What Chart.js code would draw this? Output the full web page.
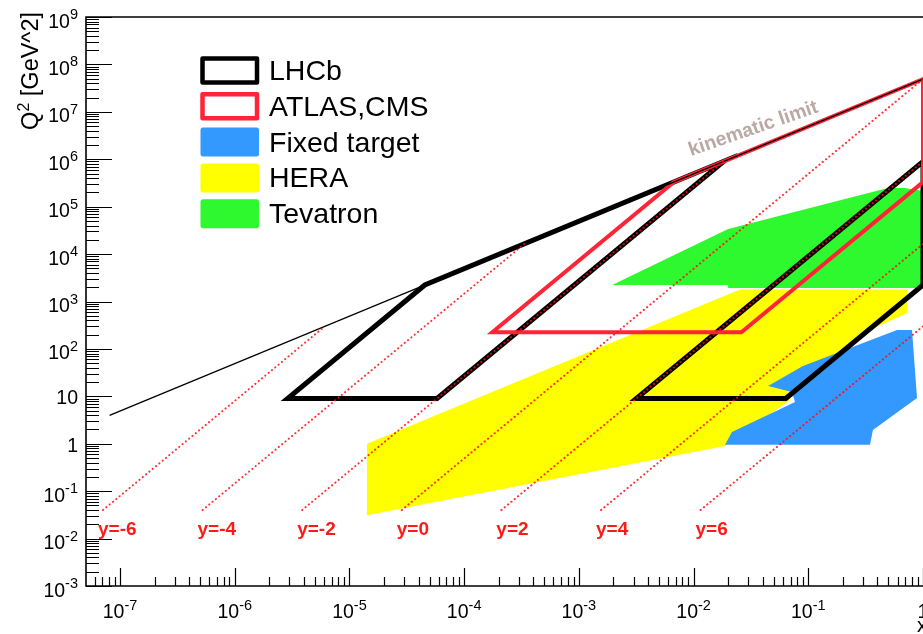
<!DOCTYPE html>
<html>
<head>
<meta charset="utf-8">
<script src="https://cdn.jsdelivr.net/npm/chart.js@4.4.1/dist/chart.umd.min.js"></script>
<style>
  html, body { margin: 0; padding: 0; background: #fff; overflow: hidden; }
  canvas { display: block; }
</style>
</head>
<body>
<canvas id="kin" width="923" height="634"></canvas>
<script>
// Kinematic coverage in the (x, Q^2) plane at sqrt(s) = 7 TeV

// axis ranges
const xRange = [5.05e-8, 1];
const q2Range = [1e-3, 1e9];

// tick labels
const xTickValues = [1e-7, 1e-6, 1e-5, 1e-4, 1e-3, 1e-2, 1e-1, 1];
const xTickBase = ['10', '10', '10', '10', '10', '10', '10', '1'];
const xTickExp = ['-7', '-6', '-5', '-4', '-3', '-2', '-1', ''];
const yTickValues = [1e-3, 1e-2, 1e-1, 1, 10, 1e2, 1e3, 1e4, 1e5, 1e6, 1e7, 1e8, 1e9];
const yTickBase = ['10', '10', '10', '1', '10', '10', '10', '10', '10', '10', '10', '10', '10'];
const yTickExp = ['-3', '-2', '-1', '', '', '2', '3', '4', '5', '6', '7', '8', '9'];

// kinematic limit Q^2 = x s
const kinLimitX = [8.2e-8, 1];
const kinLimitQ2 = [4.0, 4.9e7];
const kinLabelAt = [9.5e-3, 1.17e6];

// lines of constant rapidity
const rapidities = [-6, -4, -2, 0, 2, 4, 6];
const rapStartX = [7.1e-8, 5.24e-7, 3.87e-6, 2.86e-5, 2.11e-4, 1.56e-3, 1.15e-2];
const rapStartQ2 = [0.04, 0.04, 0.04, 0.04, 0.04, 0.04, 0.04];
const rapEndX = [6.1e-6, 3.35e-4, 0.0183, 1, 1, 1, 1];
const rapEndQ2 = [300, 1.64e4, 9.0e5, 4.9e7, 9.0e5, 1.64e4, 300];

// LHCb: backward (low-x) and forward (high-x) regions
const lhcbLowX = [5.8e-5, 0.0183, 4.54e-5, 2.89e-6, 5.8e-5];
const lhcbLowQ2 = [9, 9.0e5, 2225, 9, 9];
const lhcbHighX = [0.0636, 1, 1, 3.17e-3, 0.0636];
const lhcbHighQ2 = [9, 2225, 9.0e5, 9, 9];

// ATLAS, CMS
const atlasX = [0.0261, 1, 1, 6.74e-3, 1.76e-4, 0.0261];
const atlasQ2 = [225, 3.3e5, 4.9e7, 3.3e5, 225, 225];

// HERA
const heraX = [1.42e-5, 0.0254, 0.726, 0.726, 0.332, 0.193, 0.0847, 0.0693, 0.0188, 1.42e-5];
const heraQ2 = [1.0, 1800, 1800, 573, 239, 86, 32.6, 8.4, 0.9, 0.031];

// fixed target
const fixedX = [0.0899, 0.594, 0.802, 0.887, 0.366, 0.345, 0.0188, 0.0216, 0.0766, 0.0721, 0.0446];
const fixedQ2 = [43.7, 251, 251, 9.2, 1.95, 0.95, 0.95, 1.77, 7.6, 12.4, 16.5];

// Tevatron
const tevX = [1.95e-3, 0.0200, 0.495, 0.697, 1, 1, 0.0200, 0.0200];
const tevQ2 = [2230, 3.38e4, 2.48e5, 2.48e5, 2.14e5, 1930, 1930, 2230];

// legend entries
const legendLabels = ['LHCb', 'ATLAS,CMS', 'Fixed target', 'HERA', 'Tevatron'];

const BLACK = '#000000';
const RED = '#ff2436';
const BLUE = '#3399ff';
const YELLOW = '#ffff00';
const GREEN = '#2ef82e';
const DOT_RED = 'rgba(255,10,10,0.85)';
const FONT = '"Liberation Sans", Arial, Helvetica, sans-serif';

const pts = (xs, ys) => xs.map((v, i) => ({ x: v, y: ys[i] }));

const datasets = [];
rapidities.forEach((r, i) => datasets.push({
  label: 'y=' + r,
  data: pts([rapStartX[i], rapEndX[i]], [rapStartQ2[i], rapEndQ2[i]]),
  borderColor: DOT_RED, borderWidth: 2, borderDash: [0.2, 4.1], borderCapStyle: 'round',
  fill: false, order: 0
}));
datasets.push({
  label: 'kinematic limit', data: pts(kinLimitX, kinLimitQ2),
  borderColor: BLACK, borderWidth: 1.4, fill: false, order: 1
});
datasets.push({
  label: 'ATLAS,CMS', data: pts(atlasX, atlasQ2),
  borderColor: RED, borderWidth: 4, fill: false, order: 2
});
datasets.push({
  label: 'LHCb', data: pts(lhcbLowX, lhcbLowQ2),
  borderColor: BLACK, borderWidth: 5, fill: false, order: 3
});
datasets.push({
  label: 'LHCb', data: pts(lhcbHighX, lhcbHighQ2),
  borderColor: BLACK, borderWidth: 5, fill: false, order: 3
});
datasets.push({
  label: 'Tevatron', data: pts(tevX, tevQ2),
  borderColor: 'rgba(0,0,0,0)', borderWidth: 0, backgroundColor: GREEN, fill: 'shape', order: 4
});
datasets.push({
  label: 'Fixed target', data: pts(fixedX, fixedQ2),
  borderColor: 'rgba(0,0,0,0)', borderWidth: 0, backgroundColor: BLUE, fill: 'shape', order: 5
});
datasets.push({
  label: 'HERA', data: pts(heraX, heraQ2),
  borderColor: 'rgba(0,0,0,0)', borderWidth: 0, backgroundColor: YELLOW, fill: 'shape', order: 6
});

// "10^n" style label: base text with a raised exponent
function drawPower(ctx, base, exp, x, y, align) {
  const fMain = '19.5px ' + FONT, fSup = '14.5px ' + FONT;
  ctx.font = fMain;
  const wb = ctx.measureText(base).width;
  ctx.font = fSup;
  const we = exp ? ctx.measureText(exp).width : 0;
  const total = wb + we;
  const x0 = align === 'center' ? x - total / 2 : (align === 'right' ? x - total : x);
  ctx.textAlign = 'left';
  ctx.textBaseline = 'alphabetic';
  ctx.font = fMain;
  ctx.fillText(base, x0, y);
  if (exp) {
    ctx.font = fSup;
    ctx.fillText(exp, x0 + wb, y - 8.5);
  }
}

// ROOT-style frame, inward ticks, labels, titles and legend
const rootFrame = {
  id: 'rootFrame',
  afterDraw(chart) {
    const { ctx, chartArea: a } = chart;
    const xs = chart.scales.x, ys = chart.scales.y;
    ctx.save();

    ctx.strokeStyle = BLACK;
    ctx.lineWidth = 1.6;
    ctx.beginPath();
    ctx.moveTo(a.right + 2, a.top);
    ctx.lineTo(a.left, a.top);
    ctx.lineTo(a.left, a.bottom);
    ctx.lineTo(a.right + 2, a.bottom);
    ctx.stroke();

    ctx.lineWidth = 1.2;
    ctx.beginPath();
    for (let e = -8; e <= 0; e++) {
      for (let k = 1; k <= 9; k++) {
        const v = k * Math.pow(10, e);
        if (v < xs.min || v > xs.max * 1.0001) continue;
        const p = Math.round(xs.getPixelForValue(v)) + 0.5;
        const len = k === 1 ? 18 : 9;
        ctx.moveTo(p, a.bottom);
        ctx.lineTo(p, a.bottom - len);
      }
    }
    for (let e = -3; e <= 9; e++) {
      for (let k = 1; k <= 9; k++) {
        const v = k * Math.pow(10, e);
        if (v < ys.min || v > ys.max * 1.0001) continue;
        const p = Math.round(ys.getPixelForValue(v)) + 0.5;
        const len = k === 1 ? 26 : 13;
        ctx.moveTo(a.left, p);
        ctx.lineTo(a.left + len, p);
      }
    }
    ctx.stroke();

    ctx.fillStyle = BLACK;
    xTickValues.forEach((v, i) => {
      drawPower(ctx, xTickBase[i], xTickExp[i], xs.getPixelForValue(v), a.bottom + 32, 'center');
    });
    yTickValues.forEach((v, i) => {
      const p = ys.getPixelForValue(v);
      drawPower(ctx, yTickBase[i], yTickExp[i], 78, p + (yTickExp[i] ? 10.5 : 8), 'right');
    });

    // axis titles
    ctx.font = '20px ' + FONT;
    ctx.textAlign = 'right';
    ctx.textBaseline = 'alphabetic';
    ctx.fillText('x', a.right + 4, 632);

    ctx.save();
    ctx.translate(38, 12);
    ctx.rotate(-Math.PI / 2);
    const fT = '23.5px ' + FONT, fTs = '16px ' + FONT;
    ctx.font = fT;
    const wQ = ctx.measureText('Q').width;
    const wRest = ctx.measureText(' [GeV^2]').width;
    ctx.font = fTs;
    const w2 = ctx.measureText('2').width;
    let tx = -(wQ + w2 + wRest);
    ctx.textAlign = 'left';
    ctx.font = fT; ctx.fillText('Q', tx, 0); tx += wQ;
    ctx.font = fTs; ctx.fillText('2', tx, -9.5); tx += w2;
    ctx.font = fT; ctx.fillText(' [GeV^2]', tx, 0);
    ctx.restore();

    // rapidity labels
    ctx.fillStyle = '#ff1a1a';
    ctx.font = 'bold 19px ' + FONT;
    ctx.textAlign = 'left';
    rapidities.forEach((r, i) => {
      ctx.fillText('y=' + r, xs.getPixelForValue(rapStartX[i]) - 5, 535);
    });

    // kinematic limit caption
    ctx.save();
    ctx.translate(xs.getPixelForValue(kinLabelAt[0]), ys.getPixelForValue(kinLabelAt[1]));
    ctx.rotate(-19 * Math.PI / 180);
    ctx.fillStyle = '#bba8a2';
    ctx.font = 'bold 19.5px ' + FONT;
    ctx.textAlign = 'left';
    ctx.fillText('kinematic limit', 0, 0);
    ctx.restore();

    // legend
    const swatch = [
      { stroke: BLACK }, { stroke: RED }, { fill: BLUE }, { fill: YELLOW }, { fill: GREEN }
    ];
    legendLabels.forEach((lab, i) => {
      const cy = 70 + i * 35.8;
      const s = swatch[i];
      if (s.stroke) {
        ctx.strokeStyle = s.stroke;
        ctx.lineWidth = 4.5;
        ctx.lineJoin = 'round';
        ctx.strokeRect(202.5, cy - 11.5, 54.5, 24);
      } else {
        ctx.fillStyle = s.fill;
        ctx.beginPath();
        ctx.roundRect(200.5, cy - 14, 58.5, 29, 2.5);
        ctx.fill();
      }
      ctx.fillStyle = BLACK;
      ctx.font = '28.5px ' + FONT;
      ctx.textAlign = 'left';
      ctx.fillText(lab, 269, cy + 10);
    });

    ctx.restore();
  }
};

new Chart(document.getElementById('kin'), {
  type: 'line',
  data: { datasets },
  options: {
    responsive: false,
    animation: false,
    devicePixelRatio: 1,
    events: [],
    layout: { padding: { left: 86, right: 0, top: 17, bottom: 48 } },
    elements: {
      point: { radius: 0 },
      line: { tension: 0, borderJoinStyle: 'miter', borderCapStyle: 'round' }
    },
    scales: {
      x: { type: 'logarithmic', min: xRange[0], max: xRange[1], bounds: 'data', display: false },
      y: { type: 'logarithmic', min: q2Range[0], max: q2Range[1], bounds: 'data', display: false }
    },
    plugins: { legend: { display: false }, tooltip: { enabled: false } }
  },
  plugins: [rootFrame]
});
</script>
</body>
</html>
